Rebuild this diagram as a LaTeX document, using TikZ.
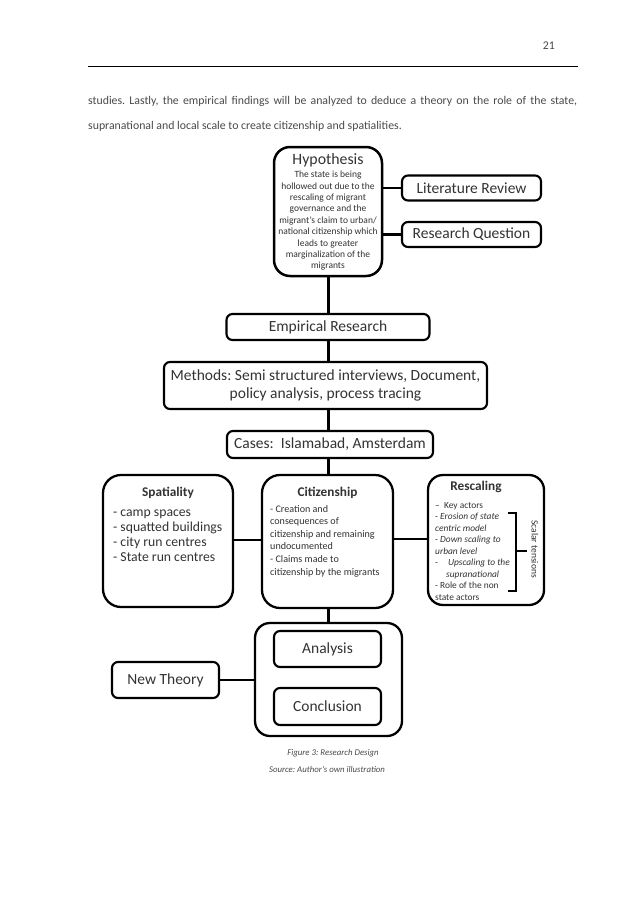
\documentclass[tikz,border=0pt]{standalone}
\usepackage{fontspec}
\setmainfont{Carlito}
\usetikzlibrary{calc}
\definecolor{txt}{HTML}{333333}
\definecolor{bodytxt}{HTML}{4A4A4A}
\frenchspacing
\begin{document}
\begin{tikzpicture}[x=1pt,y=-1pt,
  box/.style={draw=black, line width=2.1pt, rounded corners=6pt, inner sep=0pt, text=txt,
    font=\fontsize{15.5}{18.5}\selectfont, align=center},
  bigbox/.style={box, rounded corners=16pt, line width=2.3pt},
  conn/.style={draw=black, line width=2.1pt},
  ttl/.style={inner sep=0pt, text=txt, font=\fontsize{15.8}{17}\selectfont},
  subttl/.style={inner sep=0pt, text=txt, font=\bfseries\fontsize{13.3}{15}\selectfont},
  blk/.style={inner sep=0pt, text=txt},
  pagetxt/.style={inner sep=0pt, text=bodytxt, font=\fontsize{11.8}{13}\selectfont},
  captxt/.style={inner sep=0pt, text=bodytxt, font=\itshape\fontsize{8.8}{11}\selectfont}]
\useasboundingbox (0,0) rectangle (638,903);
\fill[white] (0,0) rectangle (638,903);

% page header and text
\node[pagetxt, anchor=base east] (pnum) at (555,49) {21};
\coordinate (rl) at (88,66.5);
\coordinate (rr) at (578,66.5);
\draw[line width=1.1pt] (rl) -- (rr);
\node[pagetxt, anchor=base west] (l1) at (88,104) {\makebox[489pt][s]{studies. Lastly, the empirical findings will be analyzed to deduce a theory on the role of the state,}};
\node[pagetxt, anchor=base west] (l2) at (88,129) {supranational and local scale to create citizenship and spatialities.};

\coordinate (spine) at (328.5,0);

% hypothesis
\node[bigbox, line width=2.5pt, minimum width=108pt, minimum height=129pt] (hyp) at (328,211.5) {};
\node[ttl] (hypt) at (328,160) {Hypothesis};
\node[blk, anchor=base] (hypb) at (328,177.6) {\begin{minipage}[t]{110pt}\centering\fontsize{9.5}{11.4}\selectfont
The state is being\\ hollowed out due to the\\ rescaling of migrant\\ governance and the\\ migrant’s claim to urban/\\ national citizenship which\\ leads to greater\\ marginalization of the\\ migrants\end{minipage}};

\node[box, minimum width=139pt, minimum height=25pt] (lit) at (471.5,188) {Literature Review};
\node[box, minimum width=139pt, minimum height=25pt] (rq) at (471.5,234.5) {Research Question};
\draw[conn] (lit.west -| hyp.east) -- (lit.west);
\draw[conn] (rq.west -| hyp.east) -- (rq.west);

% empirical chain
\node[box, minimum width=203pt, minimum height=26pt] (emp) at (328,327) {Empirical Research};
\node[box, minimum width=323pt, minimum height=47pt] (meth) at (325.5,385.5) {Methods: Semi structured interviews, Document,\\ policy analysis, process tracing};
\node[box, minimum width=206pt, minimum height=27pt] (cases) at (330,444.5) {Cases: \ Islamabad, Amsterdam};

% three boxes
\node[bigbox, minimum width=130pt, minimum height=132pt, rounded corners=18pt] (spat) at (168,541) {};
\node[bigbox, minimum width=131pt, minimum height=133pt, rounded corners=18pt] (cit) at (327.5,541.5) {};
\node[bigbox, minimum width=116pt, minimum height=130pt, rounded corners=15pt] (resc) at (486,540) {};

\node[subttl] (spatt) at (168,493) {Spatiality};
\node[blk, anchor=base west] (spatb) at (113,516.5) {\begin{minipage}[t]{118pt}\raggedright\fontsize{13.7}{15}\selectfont
- camp spaces\\ - squatted buildings\\ - city run centres\\ - State run centres\end{minipage}};

\node[subttl] (citt) at (327.5,493) {Citizenship};
\node[blk, anchor=base west] (citb) at (270,512) {\begin{minipage}[t]{120pt}\raggedright\fontsize{10.1}{12.6}\selectfont
- Creation and\\ consequences of\\ citizenship and remaining\\ undocumented\\ - Claims made to\\ citizenship by the migrants\end{minipage}};

\node[subttl] (resct) at (476,487) {Rescaling};
\node[blk, anchor=base west] (rescb) at (435,508) {\begin{minipage}[t]{80pt}\raggedright\fontsize{9.4}{11.5}\selectfont
–\ \ Key actors\\ - \textit{Erosion of state}\\ \textit{centric model}\\ - \textit{Down scaling to}\\ \textit{urban level}\\ -\hspace{10pt}\textit{Upscaling to the}\\ \hspace{11pt}\textit{supranational}\\ - Role of the non\\ state actors\end{minipage}};

\coordinate (bt) at (508,513);
\coordinate (bb) at (508,591);
\coordinate (bm) at (516,551);
\coordinate (be) at (527,551);
\draw[line width=1.7pt] (bt) -- ++(8,0) -- ($(bb)+(8,0)$) -- (bb);
\draw[line width=1.7pt] (bm) -- (be);
\node[blk, rotate=-90, font=\fontsize{9.5}{11}\selectfont] (scal) at (535,549) {Scalar tensions};

\draw[conn] (spat.east |- 0,540) -- (cit.west |- 0,540);
\draw[conn] (cit.east |- 0,539) -- (resc.west |- 0,539);

% bottom group
\node[bigbox, minimum width=147pt, minimum height=113pt, rounded corners=15pt] (grp) at (328.5,679.5) {};
\node[box, minimum width=107pt, minimum height=36pt] (ana) at (327.5,649) {Analysis};
\node[box, minimum width=107pt, minimum height=37pt] (conc) at (327.5,706.5) {Conclusion};
\node[box, minimum width=107pt, minimum height=36pt] (newt) at (165.5,680) {New Theory};
\draw[conn] (newt.east) -- (newt.east -| grp.west);

% spine
\draw[conn] (hyp.south -| spine) -- (emp.north -| spine);
\draw[conn] (emp.south -| spine) -- (meth.north -| spine);
\draw[conn] (meth.south -| spine) -- (cases.north -| spine);
\draw[conn] (cases.south -| spine) -- (cit.north -| spine);
\draw[conn] (cit.south -| spine) -- (grp.north -| spine);

% caption
\node[captxt] (cap1) at (333,753) {Figure 3: Research Design};
\node[captxt] (cap2) at (327,769) {Source: Author’s own illustration};
\end{tikzpicture}
\end{document}
